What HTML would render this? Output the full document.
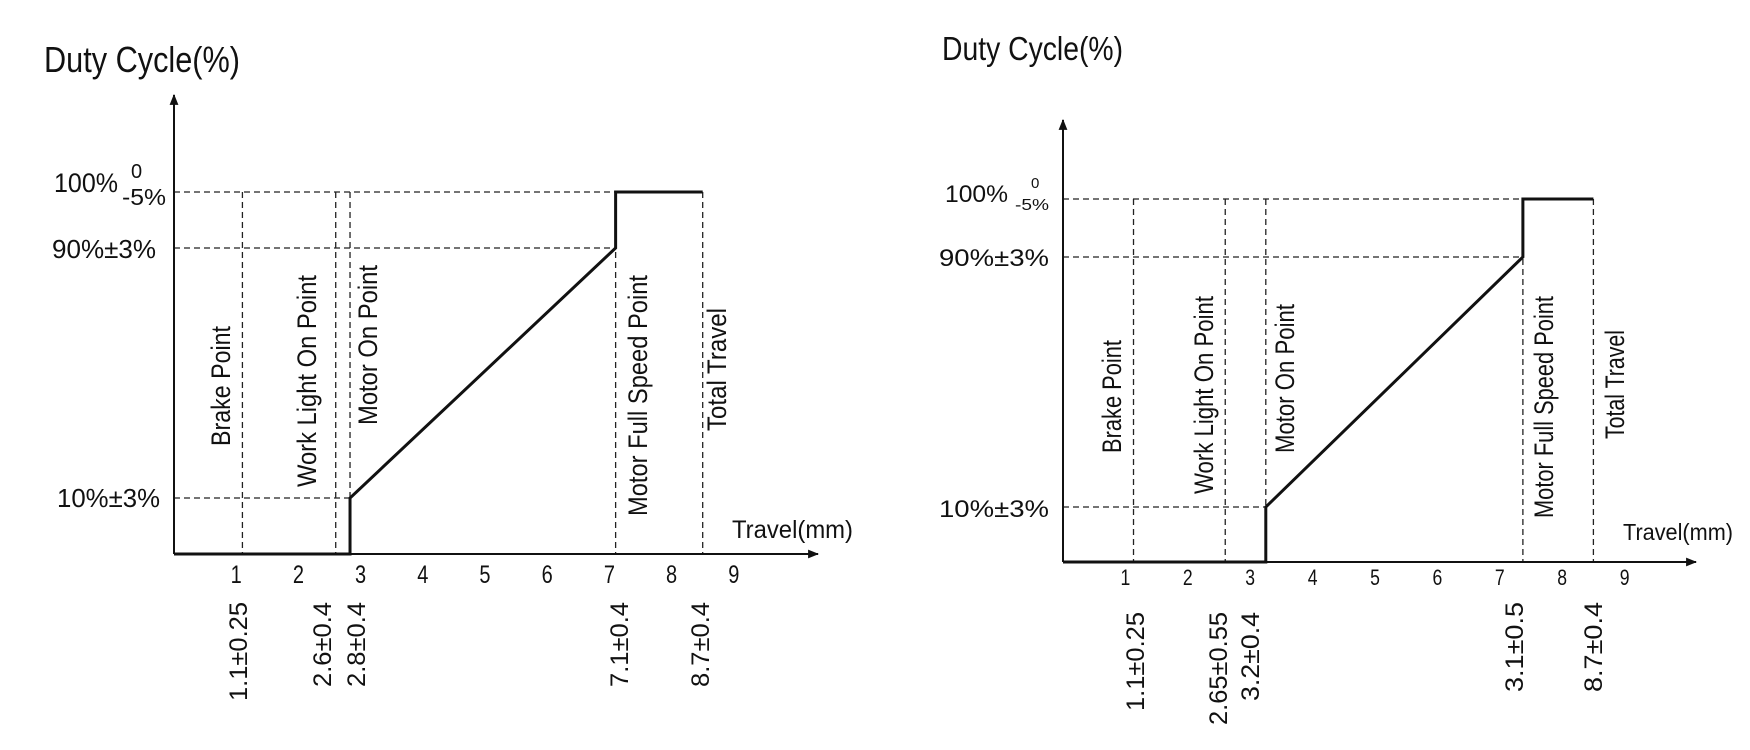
<!DOCTYPE html>
<html><head><meta charset="utf-8"><style>
html,body{margin:0;padding:0;background:#fff;}
svg{display:block;}
text{font-family:"Liberation Sans",sans-serif;fill:#111;}
</style></head>
<body>
<svg id="root" width="1750" height="750" viewBox="0 0 1750 750">
<defs>
<marker id="arr" viewBox="0 0 10 10" refX="9" refY="5" markerWidth="11" markerHeight="11" markerUnits="userSpaceOnUse" orient="auto"><path d="M0,1 L10,5 L0,9 z" fill="#111"/></marker>
</defs>
</svg>
<script>
// ---- data: left chart ----
const xTicks = [1,2,3,4,5,6,7,8,9];
const yLevels = [0,10,90,100];
const markerNames = ["Brake Point","Work Light On Point","Motor On Point","Motor Full Speed Point","Total Travel"];
const leftMarkerX = [1.1,2.6,2.83,7.1,8.5];
const leftTolLabels = ["1.1±0.25","2.6±0.4","2.8±0.4","7.1±0.4","8.7±0.4"];
const leftCurveX = [0,2.83,2.83,7.1,7.1,8.5];
const leftCurveY = [0,0,10,90,100,100];
// ---- data: right chart ----
const rightMarkerX = [1.13,2.6,3.25,7.37,8.5];
const rightTolLabels = ["1.1±0.25","2.65±0.55","3.2±0.4","3.1±0.5","8.7±0.4"];
const rightCurveX = [0,3.25,3.25,7.37,7.37,8.5];
const rightCurveY = [0,0,10,90,100,100];

const NS="http://www.w3.org/2000/svg";
const root=document.getElementById('root');
function mk(tag,attrs,parent,txt){const e=document.createElementNS(NS,tag);for(const k in attrs)e.setAttribute(k,attrs[k]);if(txt!==undefined)e.textContent=txt;(parent||root).appendChild(e);return e;}

const charts=[
 {id:'left',x0:174,unit:62.2,yRange:[554,498,248,192],yTop:95,xEnd:818,
  markerX:leftMarkerX,tol:leftTolLabels,cx:leftCurveX,cy:leftCurveY,
  title:{x:44,y:72,len:196,fs:36},
  tickFs:25,tickY:583,
  yl:{x100:[54,192,64,27],zero:[131,178,20],m5:[122,205,44,23],l90:[52,258,104,26],l10:[57,507,103,26]},
  travel:[732,538,121,25],
  lab:[[230,446,120],[316,487,212],[377,425,160],[647,516,241],[726,431,123]],
  tolPos:[[247,602,99],[331,602,85],[365,602,85],[628,602,85],[709,602,85]]},
 {id:'right',x0:1063,unit:62.4,yRange:[562,507,257,199],yTop:120,xEnd:1696,
  markerX:rightMarkerX,tol:rightTolLabels,cx:rightCurveX,cy:rightCurveY,
  title:{x:942,y:60,len:181,fs:33},
  tickFs:22,tickY:585,
  yl:{x100:[945,202,63,24],zero:[1031,188,15],m5:[1015,210,34,16],l90:[939,266,110,24],l10:[939,517,110,24]},
  travel:[1623,540,110,23],
  lab:[[1121,453,113],[1213,494,198],[1294,453,149],[1553,518,222],[1624,439,109]],
  tolPos:[[1144,612,99],[1227,612,113],[1259,612,89],[1523,602,90],[1602,602,90]]}
];

charts.forEach(c=>{
 const g=mk('g',{});
 
 
 const X=v=>c.x0+v*c.unit;
 const Y=v=>{for(let i=1;i<yLevels.length;i++){if(v<=yLevels[i]){const t=(v-yLevels[i-1])/(yLevels[i]-yLevels[i-1]);return c.yRange[i-1]+t*(c.yRange[i]-c.yRange[i-1]);}}return c.yRange[c.yRange.length-1];};
 const base=Y(0);
 const t=mk('text',{x:c.title.x,y:c.title.y,'font-size':c.title.fs,textLength:c.title.len,lengthAdjust:'spacingAndGlyphs'},g,'Duty Cycle(%)');
 
 
 [10,90,100].forEach(v=>{
  const xr = v===10 ? X(c.cx[2]) : X(c.cx[3]);
  const l=mk('line',{x1:X(0),y1:Y(v),x2:xr,y2:Y(v),stroke:'#222','stroke-width':1.3,'stroke-dasharray':'6,4'},g);
  
  
 });
 c.markerX.forEach((mx,i)=>{
  const l=mk('line',{x1:X(mx),y1:Y(100),x2:X(mx),y2:base,stroke:'#222','stroke-width':1.3,'stroke-dasharray':'6,4'},g);
  
  
  const p=c.lab[i];
  const tx=mk('text',{x:0,y:0,'font-size':27,textLength:p[2],lengthAdjust:'spacingAndGlyphs',transform:`translate(${p[0]},${p[1]}) rotate(-90)`},g,markerNames[i]);
  
  
  const q=c.tolPos[i];
  const tt=mk('text',{x:0,y:0,'font-size':25,'text-anchor':'end',textLength:q[2],lengthAdjust:'spacingAndGlyphs',transform:`translate(${q[0]},${q[1]}) rotate(-90)`},g,c.tol[i]);
  
  
 });
 const ya=mk('line',{x1:X(0),y1:base,x2:X(0),y2:c.yTop,stroke:'#111','stroke-width':2,'marker-end':'url(#arr)'},g);
 
 
 const xa=mk('line',{x1:X(0),y1:base,x2:c.xEnd,y2:base,stroke:'#111','stroke-width':2,'marker-end':'url(#arr)'},g);
 
 
 xTicks.forEach(v=>{
  const e=mk('text',{x:X(v),y:c.tickY,'font-size':c.tickFs,'text-anchor':'middle',transform:`translate(${X(v)},0) scale(0.8,1) translate(${-X(v)},0)`},g,String(v));
  
  
 });
 const yl=c.yl;
 const a=mk('text',{x:yl.x100[0],y:yl.x100[1],'font-size':yl.x100[3],textLength:yl.x100[2],lengthAdjust:'spacingAndGlyphs'},g,'100%');
 
 
 const z=mk('text',{x:yl.zero[0],y:yl.zero[1],'font-size':yl.zero[2]},g,'0');
 
 
 const m=mk('text',{x:yl.m5[0],y:yl.m5[1],'font-size':yl.m5[3],textLength:yl.m5[2],lengthAdjust:'spacingAndGlyphs'},g,'-5%');
 
 
 const b=mk('text',{x:yl.l90[0],y:yl.l90[1],'font-size':yl.l90[3],textLength:yl.l90[2],lengthAdjust:'spacingAndGlyphs'},g,'90%±3%');
 
 
 const d=mk('text',{x:yl.l10[0],y:yl.l10[1],'font-size':yl.l10[3],textLength:yl.l10[2],lengthAdjust:'spacingAndGlyphs'},g,'10%±3%');
 
 
 const tr=mk('text',{x:c.travel[0],y:c.travel[1],'font-size':c.travel[3],textLength:c.travel[2],lengthAdjust:'spacingAndGlyphs'},g,'Travel(mm)');
 
 
 const pts=c.cx.map((v,i)=>X(v)+','+Y(c.cy[i])).join(' ');
 const pl=mk('polyline',{points:pts,fill:'none',stroke:'#111','stroke-width':3,'stroke-linejoin':'miter'},g);
 
 
});
</script>
</body></html>
